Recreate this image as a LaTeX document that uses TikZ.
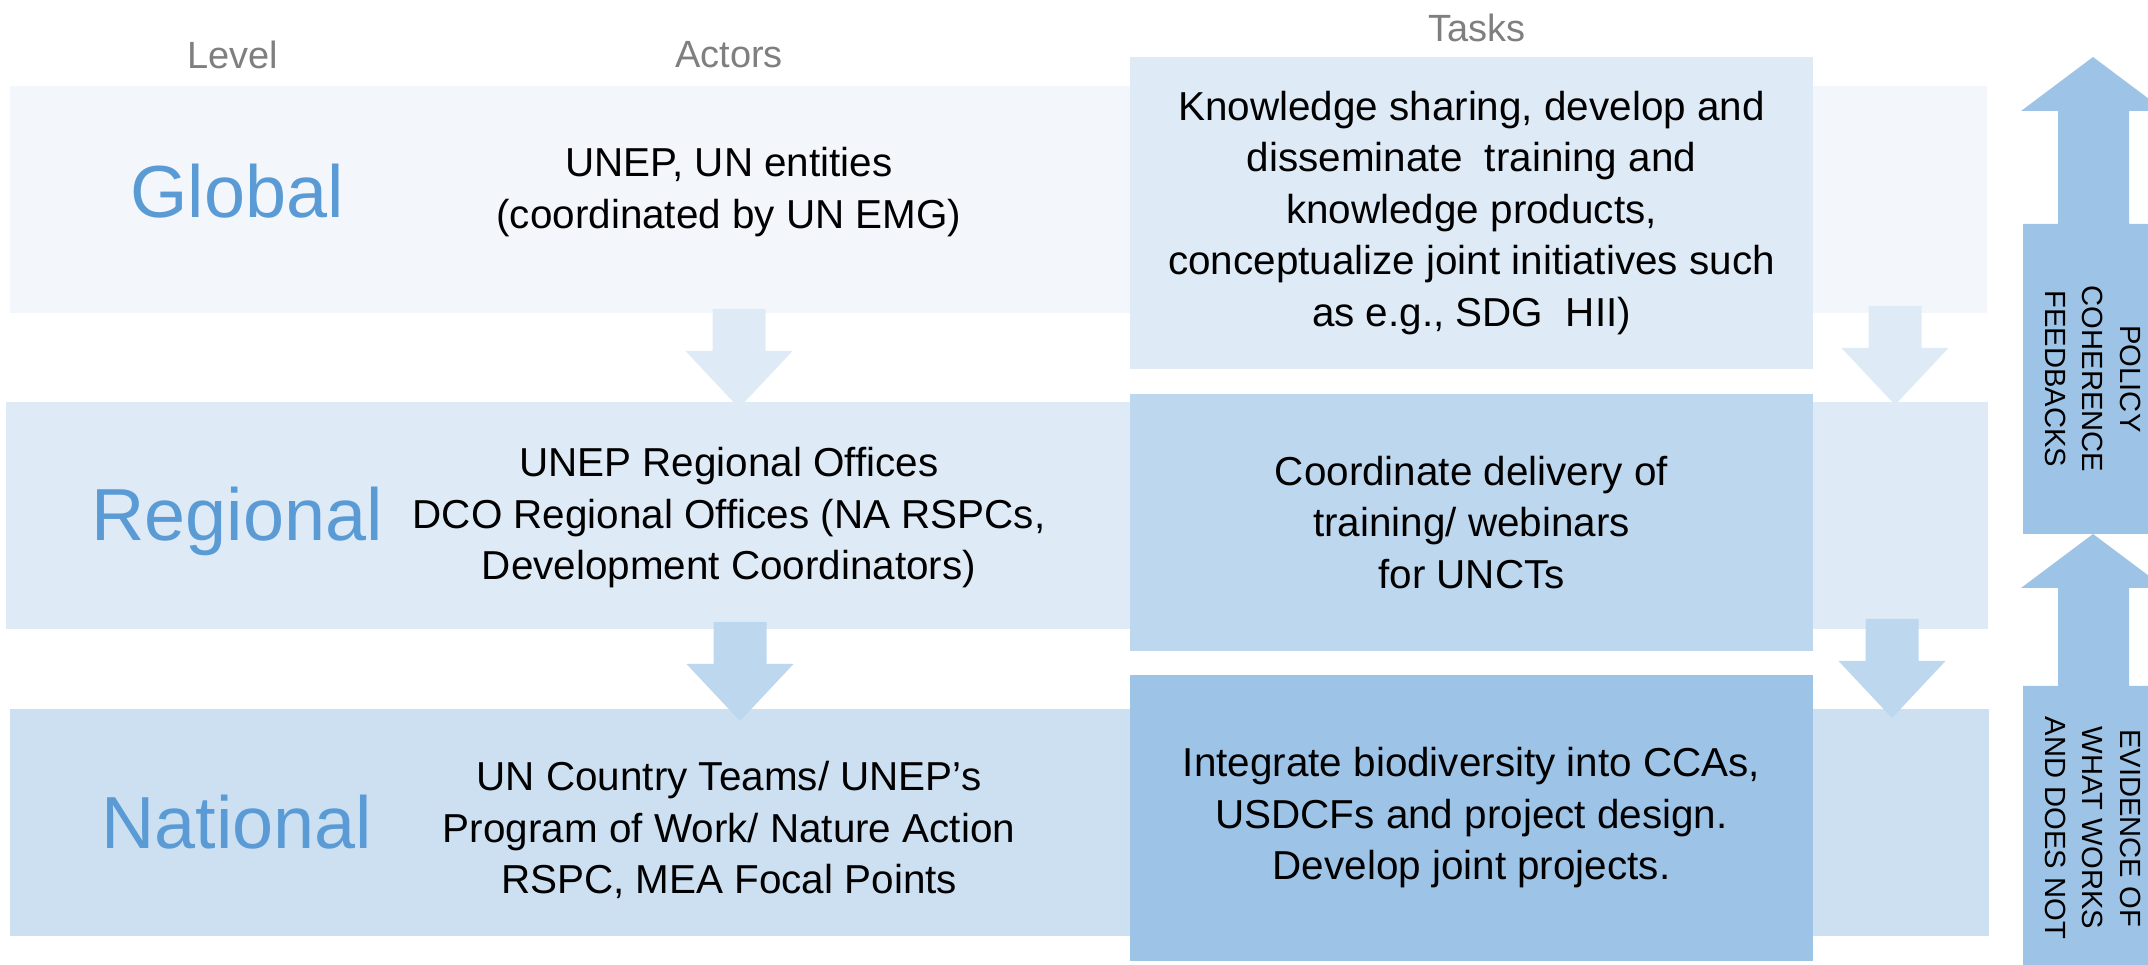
\documentclass[tikz,border=0pt]{standalone}
\usepackage{fontspec}
\setmainfont{Liberation Sans}
\usepackage{tikz}
\usetikzlibrary{positioning,calc}
\usepackage{xcolor}

\definecolor{levelblue}{HTML}{5B9BD5}
\definecolor{headgray}{HTML}{7F7F7F}
\definecolor{bandA}{HTML}{F3F7FB}
\definecolor{bandB}{HTML}{DEEBF7}
\definecolor{bandC}{HTML}{CDE0F1}
\definecolor{taskB}{HTML}{BDD7EE}
\definecolor{taskC}{HTML}{9DC3E6}

% block arrow pointing down, tip at #1
\newcommand{\dropArrow}[2]{%
  \fill[#2] (#1) -- ++(-0.535,0.57) -- ++(0.27,0) -- ++(0,0.42)
    -- ++(0.53,0) -- ++(0,-0.42) -- ++(0.27,0) -- cycle;}

\begin{document}
\begin{tikzpicture}[
  band/.style={
    rectangle, inner sep=0pt,
    minimum height=2.27cm
  },
  taskbox/.style={
    rectangle, inner sep=0pt, align=center,
    minimum width=6.83cm,
    font=\fontsize{11.5}{14.65}\selectfont
  },
  actor/.style={align=center, font=\fontsize{11.5}{14.65}\selectfont},
  level/.style={anchor=base, text=levelblue, font=\fontsize{21}{25}\selectfont},
  header/.style={anchor=base, text=headgray, font=\fontsize{10.8}{13}\selectfont},
  callout/.style={fill=taskC},
  sidetext/.style={rotate=-90, align=center, font=\fontsize{8.3}{10.8}\selectfont}
]
\useasboundingbox (0,0) rectangle (21.48,9.65);

% Column headers
\node[header] (hLevel) at (2.33,8.96) {Level};
\node[header] (hActors) at (7.29,8.97) {Actors};
\node[header] (hTasks) at (14.77,9.23) {Tasks};

% Level bands
\node[band, fill=bandA, minimum width=19.77cm] (bandG) at (9.985,7.655) {};
\node[band, fill=bandB, minimum width=19.82cm] (bandR) at (9.97,4.495) {};
\node[band, fill=bandC, minimum width=19.79cm] (bandN) at (9.995,1.425) {};

% Level names
\node[level] (lvlG) at (2.37,7.47) {Global};
\node[level] (lvlR) at (2.37,4.24) {Regional};
\node[level] (lvlN) at (2.37,1.16) {National};

% Actors
\node[actor] (actG) at (7.29,7.73) {UNEP, UN entities\\(coordinated by UN EMG)};
\node[actor] (actR) at (7.29,4.47) {UNEP Regional Offices\\DCO Regional Offices (NA RSPCs,\\Development Coordinators)};
\node[actor] (actN) at (7.29,1.35) {UN Country Teams/ UNEP’s\\Program of Work/ Nature Action\\RSPC, MEA Focal Points};

% Task boxes
\node[taskbox, fill=bandB, minimum height=3.12cm] (taskG) at (14.715,7.52) {
  Knowledge sharing, develop and\\
  disseminate~ training and\\
  knowledge products,\\
  conceptualize joint initiatives such\\
  as e.g., SDG~ HII)
};
\node[taskbox, fill=taskB, minimum height=2.57cm] (taskR) at (14.715,4.425) {
  Coordinate delivery of\\
  training/ webinars\\
  for UNCTs
};
\node[taskbox, fill=taskC, minimum height=2.86cm] (taskN) at (14.715,1.47) {
  Integrate biodiversity into CCAs,\\
  USDCFs and project design.\\
  Develop joint projects.
};

% Down arrows between levels
\coordinate (tipGR) at (7.39,5.57);
\coordinate (tipRN) at (7.40,2.44);
\coordinate (tipGR2) at (18.95,5.60);
\coordinate (tipRN2) at (18.92,2.47);
\dropArrow{tipGR}{bandB}
\dropArrow{tipRN}{taskB}
\dropArrow{tipGR2}{bandB}
\dropArrow{tipRN2}{taskB}

% Feedback callouts
\fill[callout] (20.23,4.31) -- (20.23,7.41) -- (20.58,7.41) -- (20.58,8.54)
  -- (20.21,8.54) -- (20.93,9.08) -- (21.65,8.54) -- (21.29,8.54)
  -- (21.29,7.41) -- (21.63,7.41) -- (21.63,4.31) -- cycle;
\fill[callout] (20.23,-0.1) -- (20.23,2.79) -- (20.58,2.79) -- (20.58,3.77)
  -- (20.21,3.77) -- (20.93,4.31) -- (21.65,3.77) -- (21.29,3.77)
  -- (21.29,2.79) -- (21.63,2.79) -- (21.63,-0.1) -- cycle;
\node[sidetext] (fbPolicy) at (20.93,5.86) {POLICY\\COHERENCE\\FEEDBACKS};
\node[sidetext] (fbEvidence) at (20.93,1.37) {EVIDENCE OF\\WHAT WORKS\\AND DOES NOT};

\end{tikzpicture}
\end{document}
